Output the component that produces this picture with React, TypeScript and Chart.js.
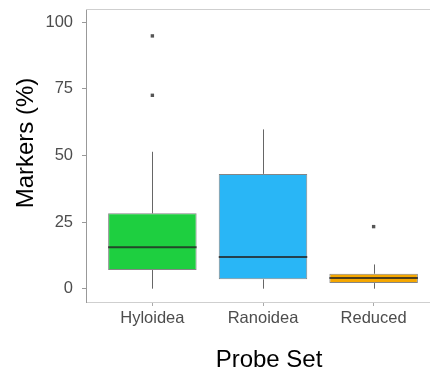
import React, { useEffect, useRef } from 'react';
import { Chart, registerables } from 'chart.js';

Chart.register(...registerables);

const categories = ['Hyloidea', 'Ranoidea', 'Reduced'];
const lowerWhisker = [0, 0, 0];
const q1 = [7.0, 3.5, 2.1];
const median = [15.6, 11.9, 4.0];
const q3 = [28.3, 43.1, 5.6];
const upperWhisker = [51.4, 59.8, 9.1];
const outlierGroup = [0, 0, 2];
const outlierValue = [94.9, 72.6, 23.3];
const boxColors = ['#1ECF40', '#29B6F6', '#F5A700'];
const yTicks = [0, 25, 50, 75, 100];
const xTitle = 'Probe Set';
const yTitle = 'Markers (%)';

const FONT = "'Liberation Sans', Arial, Helvetica, sans-serif";

const boxPlugin = {
  id: 'boxExtras',
  beforeDatasetsDraw(chart: any) {
    const { ctx, chartArea, scales } = chart;
    const x = scales.x;
    const y = scales.y;
    ctx.save();
    // panel top / right border
    ctx.strokeStyle = '#cfcfcf';
    ctx.lineWidth = 1;
    ctx.beginPath();
    ctx.moveTo(chartArea.left, Math.round(chartArea.top) + 0.5);
    ctx.lineTo(chartArea.right, Math.round(chartArea.top) + 0.5);
    ctx.moveTo(Math.round(chartArea.right) + 0.5, chartArea.top);
    ctx.lineTo(Math.round(chartArea.right) + 0.5, chartArea.bottom);
    ctx.stroke();
    // whiskers
    ctx.strokeStyle = '#666';
    ctx.lineWidth = 1;
    categories.forEach((_, i) => {
      const px = Math.round(x.getPixelForValue(i + 1)) + 0.5;
      ctx.beginPath();
      ctx.moveTo(px, y.getPixelForValue(q3[i]));
      ctx.lineTo(px, y.getPixelForValue(upperWhisker[i]));
      ctx.moveTo(px, y.getPixelForValue(q1[i]));
      ctx.lineTo(px, y.getPixelForValue(lowerWhisker[i]));
      ctx.stroke();
    });
    ctx.restore();
  },
  afterDatasetsDraw(chart: any) {
    const { ctx, scales } = chart;
    const y = scales.y;
    const meta = chart.getDatasetMeta(0);
    ctx.save();
    ctx.strokeStyle = 'rgba(35,35,35,0.8)';
    ctx.lineWidth = 2;
    meta.data.forEach((bar: any, i: number) => {
      const { x: cx, width } = bar.getProps(['x', 'width'], true);
      const py = y.getPixelForValue(median[i]);
      ctx.beginPath();
      ctx.moveTo(cx - width / 2, py);
      ctx.lineTo(cx + width / 2, py);
      ctx.stroke();
    });
    ctx.restore();
  },
  afterDraw(chart: any) {
    const { ctx } = chart;
    ctx.save();
    ctx.fillStyle = '#000';
    ctx.font = `24px ${FONT}`;
    ctx.textAlign = 'center';
    ctx.textBaseline = 'alphabetic';
    ctx.fillText(xTitle, 269, 366.5);
    ctx.translate(33, 143);
    ctx.rotate(-Math.PI / 2);
    ctx.fillText(yTitle, 0, 0);
    ctx.restore();
  },
};

export default function App() {
  const ref = useRef<HTMLCanvasElement | null>(null);

  useEffect(() => {
    if (!ref.current) return;
    const chart = new Chart(ref.current, {
      type: 'bar',
      data: {
        datasets: [
          {
            type: 'bar',
            data: categories.map((_, i) => ({ x: i + 1, y: [q1[i], q3[i]] })) as any,
            backgroundColor: boxColors,
            borderColor: 'rgba(51,51,51,0.6)',
            borderWidth: 1,
            borderSkipped: false,
            barPercentage: 0.8,
            categoryPercentage: 1,
          } as any,
          {
            type: 'scatter',
            data: outlierGroup.map((g, i) => ({ x: g + 1, y: outlierValue[i] })),
            pointStyle: 'rect',
            pointRadius: 2.4,
            backgroundColor: '#555',
            borderWidth: 0,
            showLine: false,
          } as any,
        ],
      },
      options: {
        animation: false,
        responsive: false,
        devicePixelRatio: 1,
        layout: { padding: { left: 0, top: 9, right: 10, bottom: 0 } },
        plugins: { legend: { display: false }, tooltip: { enabled: false } },
        scales: {
          x: {
            type: 'linear',
            min: 0.4,
            max: 3.6,
            offset: false,
            grid: { offset: false, drawOnChartArea: false, drawTicks: true, tickLength: 4, color: '#aaa' },
            border: { display: true, color: '#cfcfcf', width: 1 },
            afterBuildTicks: (s: any) => {
              s.ticks = categories.map((_, i) => ({ value: i + 1 }));
            },
            afterFit: (s: any) => {
              s.height = 73;
              s.paddingLeft = 0;
              s.paddingRight = 0;
            },
            ticks: {
              autoSkip: false,
              maxRotation: 0,
              padding: 2.5,
              color: '#4d4d4d',
              font: { family: FONT, size: 16.5 },
              callback: (v: any) => categories[Math.round(Number(v)) - 1] ?? '',
            },
          },
          y: {
            type: 'linear',
            min: -5,
            max: 105,
            grid: { drawOnChartArea: false, drawTicks: true, tickLength: 4, color: '#999' },
            border: { display: true, color: '#999', width: 1 },
            afterBuildTicks: (s: any) => {
              s.ticks = yTicks.map((v) => ({ value: v }));
            },
            afterFit: (s: any) => {
              s.width = 86;
              s.paddingTop = 0;
              s.paddingBottom = 0;
            },
            ticks: {
              padding: 9,
              color: '#4d4d4d',
              font: { family: FONT, size: 16.5 },
              callback: (v: any) => String(v),
            },
          },
        },
      } as any,
      plugins: [boxPlugin],
    });
    return () => chart.destroy();
  }, []);

  return (
    <div
      style={{
        position: 'fixed',
        left: 0,
        top: 0,
        width: 430,
        height: 375,
        overflow: 'hidden',
        background: '#fff',
      }}
    >
      <canvas ref={ref} width={450} height={375} style={{ display: 'block' }} />
    </div>
  );
}
